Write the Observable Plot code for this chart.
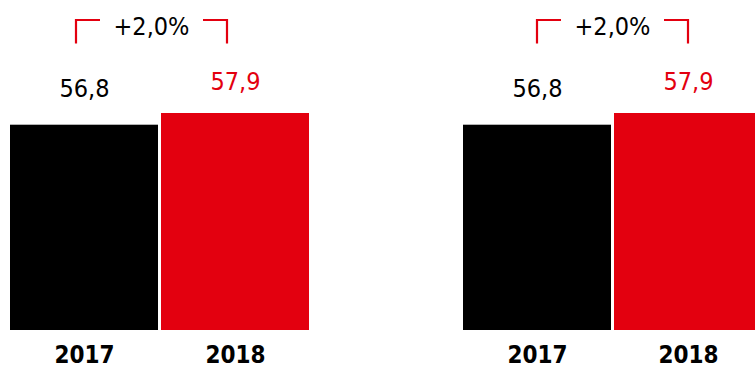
<!DOCTYPE html>
<html>
<head>
<meta charset="utf-8">
<script src="https://cdn.jsdelivr.net/npm/d3@7"></script>
<script src="https://cdn.jsdelivr.net/npm/@observablehq/plot@0.6"></script>
<style>
  html, body { margin: 0; padding: 0; background: #fff; overflow: hidden; }
  #chart { position: relative; width: 755px; height: 369px; overflow: hidden; background: #fff; }
  #chart svg { position: absolute; top: 0; }
</style>
</head>
<body>
<div id="chart"></div>
<script>
// ---- data ----
const years = ["2017", "2018"];
const leftValues = [56.8, 57.9];
const rightValues = [56.8, 57.9];
const leftChange = "+2,0%";
const rightChange = "+2,0%";
const yearColors = ["#000000", "#e3000f"];

// ---- layout / style ----
const RED = "#e3000f";
const FONT = "'Liberation Sans Narrow', 'DejaVu Sans Condensed', Roboto, sans-serif";
const W = 310, H = 369;
const panels = [
  {values: leftValues, change: leftChange, left: 0, shift: -8},
  {values: rightValues, change: rightChange, left: 453, shift: 0}
];
const fmt = d3.formatLocale({decimal: ",", thousands: ".", grouping: [3], currency: ["", " €"]}).format(".1f");

function bracketMark(label, shift) {
  return (index, scales) => {
    const x = scales.x;
    const bw = x.bandwidth ? x.bandwidth() : 0;
    const xa = x(years[0]) + bw / 2 + shift;
    const xb = x(years[1]) + bw / 2 + shift;
    const top = 20, bottom = 43.5, arm = 24;
    const g = d3.create("svg:g");
    g.append("path")
      .attr("d", `M${xa},${bottom}V${top}H${xa + arm}M${xb - arm},${top}H${xb}V${bottom}`)
      .attr("fill", "none")
      .attr("stroke", RED)
      .attr("stroke-width", 2.2);
    g.append("text")
      .attr("x", (xa + xb) / 2)
      .attr("y", 35)
      .attr("text-anchor", "middle")
      .attr("font-size", 25)
      .attr("fill", "#000")
      .text(label);
    return g.node();
  };
}

const chart = document.getElementById("chart");
for (const p of panels) {
  const data = years.map((year, i) => ({year, value: p.values[i], color: yearColors[i]}));
  const svg = Plot.plot({
    width: W,
    height: H,
    marginLeft: 10,
    marginRight: 1,
    marginTop: 113,
    marginBottom: 39,
    style: {fontFamily: FONT, background: "transparent", overflow: "visible"},
    x: {domain: years, padding: 0.02, paddingOuter: 0, label: null},
    y: {domain: [37.5, 57.9], axis: null},
    marks: [
      Plot.barY(data, {x: "year", y: "value", fill: "color", clip: true}),
      Plot.text(data.filter(d => d.year === years[0]), {
        x: "year", y: "value", text: d => fmt(d.value), fill: "color",
        fontSize: 25, lineAnchor: "bottom", dy: -28
      }),
      Plot.text(data.filter(d => d.year === years[1]), {
        x: "year", y: "value", text: d => fmt(d.value), fill: "color",
        fontSize: 25, lineAnchor: "bottom", dy: -24
      }),
      Plot.axisX({tickSize: 0, tickPadding: 15, fontSize: 24, fontWeight: "bold", fill: "#000", label: null}),
      bracketMark(p.change, p.shift)
    ]
  });
  svg.style.left = p.left + "px";
  chart.appendChild(svg);
}
</script>
</body>
</html>
